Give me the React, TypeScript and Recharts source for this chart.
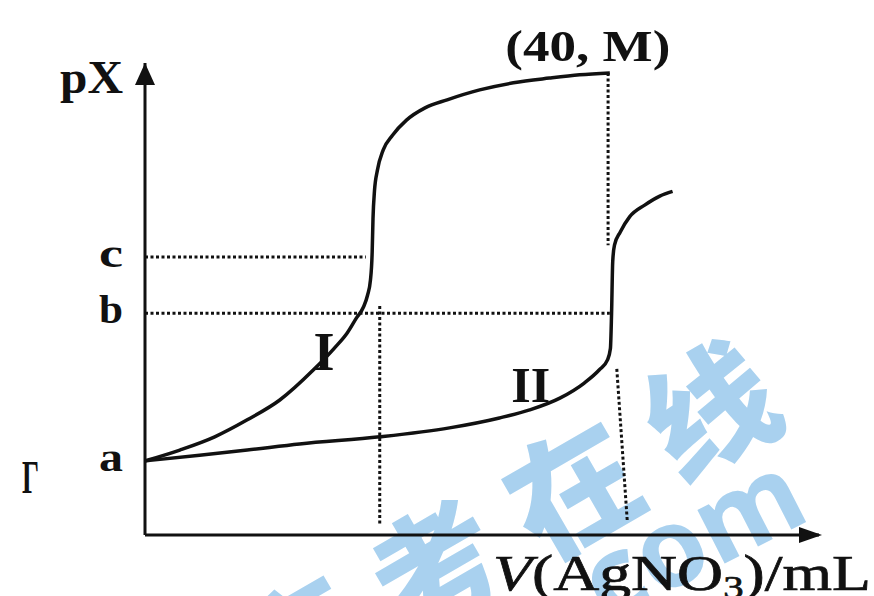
import React from 'react';
import { LineChart, Line, XAxis, YAxis, ReferenceLine, ReferenceDot } from 'recharts';

// curve I: volume of AgNO3 (mL) vs pX
const curveIVolume = [0, 3, 6, 8.8, 11.6, 14.5, 16.3, 17.4, 18.2, 18.8, 19.15, 19.4, 19.55, 19.62, 19.75, 20.0, 20.5, 21.3, 22.5, 24.1, 26, 28.8, 31.7, 34.8, 37.4, 40];
const curveIpX = [1.57, 1.8, 2.08, 2.44, 2.86, 3.5, 3.96, 4.28, 4.6, 4.83, 5.08, 5.4, 6.0, 6.7, 7.3, 7.73, 8.16, 8.47, 8.79, 9.05, 9.22, 9.43, 9.58, 9.68, 9.75, 9.79];

// curve II
const curveIIVolume = [0, 4.7, 8.8, 13.3, 20.2, 26.2, 30.5, 33.1, 35.7, 37.8, 39.1, 39.8, 40.05, 40.15, 40.25, 40.4, 40.9, 41.7, 43.0, 44.3, 45.4];
const curveIIpX = [1.57, 1.69, 1.8, 1.93, 2.08, 2.27, 2.48, 2.65, 2.9, 3.22, 3.5, 3.71, 3.95, 4.7, 5.8, 6.14, 6.42, 6.74, 6.99, 7.18, 7.28];

// levels marked on the pX axis
const levelA = 1.57;
const levelB = 4.7;
const levelC = 5.89;
const levelM = 9.79;
const yTicks = [levelA, levelB, levelC];
const yTickNames = ['a', 'b', 'c'];

const equivI = 20.2;
const equivII = 40;
const xMax = 58;
const yMax = 10;

const curveI = curveIVolume.map((v, i) => ({ v, px: curveIpX[i] }));
const curveII = curveIIVolume.map((v, i) => ({ v, px: curveIIpX[i] }));

const serif = '"Liberation Serif", "DejaVu Serif", serif';
const ink = '#111';
const dash = '3 2.5';
const wm = '#a9d1ef';

const LetterTick = (props: any) => {
  const { x, y, payload } = props;
  const idx = yTicks.indexOf(payload.value);
  return (
    <text x={x} y={y} dy={10} textAnchor="end" fontFamily={serif} fontWeight="bold" fontSize={40} textLength={24} lengthAdjust="spacingAndGlyphs" fill={ink}>
      {yTickNames[idx]}
    </text>
  );
};

const UpArrow = (p: any) => (
  <path d={`M${p.cx},${p.cy} L${p.cx - 10},${p.cy + 22} L${p.cx + 10},${p.cy + 22} Z`} fill={ink} />
);

const RightArrow = (p: any) => (
  <path d={`M${p.cx + 3},${p.cy} L${p.cx - 20},${p.cy - 8} L${p.cx - 20},${p.cy + 8} Z`} fill={ink} />
);

export default function App() {
  return (
    <div style={{ position: 'relative', width: 874, height: 596, background: '#fff', overflow: 'hidden' }}>
      <style>{'body{margin:0}'}</style>
      {/* watermark behind the chart */}
      <svg width={874} height={596} style={{ position: 'absolute', left: 0, top: 0 }}>
        <g transform="translate(514,515) rotate(-30)">
          <text x={0} y={0} textAnchor="middle" dominantBaseline="central" fontFamily='"Noto Sans CJK SC", sans-serif' fontWeight={900} fontSize={128} letterSpacing={30} fill={wm}>
            高考在线
          </text>
        </g>
        <g transform="translate(676,540) rotate(-27)">
          <text x={0} y={0} textAnchor="middle" dominantBaseline="central" fontFamily='"Noto Sans", sans-serif' fontWeight={700} fontSize={110} fill={wm}>
            .com
          </text>
        </g>
      </svg>
      <div style={{ position: 'absolute', left: 0, top: 0 }}>
        <LineChart width={874} height={596} margin={{ top: 63, right: 55, bottom: 0, left: 0 }}>
          <XAxis
            type="number"
            dataKey="v"
            domain={[0, xMax]}
            allowDataOverflow
            tick={false}
            tickLine={false}
            height={61}
            axisLine={{ stroke: ink, strokeWidth: 3 }}
            label={{
              content: (p: any) => {
                const vb = p.viewBox;
                return (
                  <text x={vb.x + vb.width + 52} y={vb.y + 55} textAnchor="end" fontFamily={serif} fontSize={50} textLength={378} lengthAdjust="spacingAndGlyphs" fill={ink} stroke={ink} strokeWidth={0.7}>
                    <tspan fontStyle="italic">V</tspan>
                    <tspan>(AgNO</tspan>
                    <tspan dy={8} fontSize={32}>3</tspan>
                    <tspan dy={-8}>)/mL</tspan>
                  </text>
                );
              },
            }}
          />
          <YAxis
            type="number"
            domain={[0, yMax]}
            allowDataOverflow
            ticks={yTicks}
            tick={<LetterTick />}
            tickLine={false}
            tickSize={0}
            tickMargin={22}
            width={145}
            axisLine={{ stroke: ink, strokeWidth: 3 }}
            label={{
              content: (p: any) => {
                const vb = p.viewBox;
                return (
                  <text x={vb.x + vb.width - 22} y={vb.y + 30} textAnchor="end" fontFamily={serif} fontWeight="bold" fontSize={46} textLength={63} lengthAdjust="spacingAndGlyphs" fill={ink}>
                    pX
                  </text>
                );
              },
            }}
          />

          <ReferenceLine segment={[{ x: 0, y: levelC }, { x: 19.0, y: levelC }]} stroke={ink} strokeWidth={3} strokeDasharray={dash} ifOverflow="visible" />
          <ReferenceLine segment={[{ x: 0, y: levelB }, { x: 40.0, y: levelB }]} stroke={ink} strokeWidth={3} strokeDasharray={dash} ifOverflow="visible" />
          <ReferenceLine segment={[{ x: equivI, y: levelB + 0.15 }, { x: equivI, y: 0.2 }]} stroke={ink} strokeWidth={3} strokeDasharray={dash} ifOverflow="visible" />
          <ReferenceLine segment={[{ x: equivII - 0.15, y: levelM }, { x: equivII - 0.15, y: 6.14 }]} stroke={ink} strokeWidth={3} strokeDasharray={dash} ifOverflow="visible" />
          <ReferenceLine segment={[{ x: 40.6, y: 3.52 }, { x: 41.5, y: 0.3 }]} stroke={ink} strokeWidth={3} strokeDasharray={dash} ifOverflow="visible" />

          <Line data={curveI} dataKey="px" type="monotone" stroke={ink} strokeWidth={3.5} dot={false} activeDot={false} isAnimationActive={false} />
          <Line data={curveII} dataKey="px" type="monotone" stroke={ink} strokeWidth={3.5} dot={false} activeDot={false} isAnimationActive={false} />

          <ReferenceDot x={0} y={yMax} r={0} ifOverflow="visible" shape={UpArrow} />
          <ReferenceDot x={xMax} y={0} r={0} ifOverflow="visible" shape={RightArrow} />

          <ReferenceDot
            x={equivII}
            y={levelM}
            r={0}
            ifOverflow="visible"
            shape={(p: any) => (
              <text x={p.cx - 22} y={p.cy - 12} textAnchor="middle" fontFamily={serif} fontWeight="bold" fontSize={44} textLength={165} lengthAdjust="spacingAndGlyphs" fill={ink}>
                (40, M)
              </text>
            )}
          />
          <ReferenceDot
            x={15.4}
            y={3.9}
            r={0}
            ifOverflow="visible"
            shape={(p: any) => (
              <text x={p.cx} y={p.cy + 19} textAnchor="middle" fontFamily={serif} fontWeight="bold" fontSize={54} fill={ink}>
                I
              </text>
            )}
          />
          <ReferenceDot
            x={33.2}
            y={3.2}
            r={0}
            ifOverflow="visible"
            shape={(p: any) => (
              <text x={p.cx} y={p.cy + 18} textAnchor="middle" fontFamily={serif} fontWeight="bold" fontSize={50} fill={ink}>
                II
              </text>
            )}
          />
        </LineChart>
      </div>
      <svg width={874} height={596} style={{ position: 'absolute', left: 0, top: 0, pointerEvents: 'none' }}>
        <text x={22} y={493} fontFamily={serif} fontWeight="bold" fontSize={46} textLength={17} lengthAdjust="spacingAndGlyphs" fill={ink}>
          Γ
        </text>
      </svg>
    </div>
  );
}
